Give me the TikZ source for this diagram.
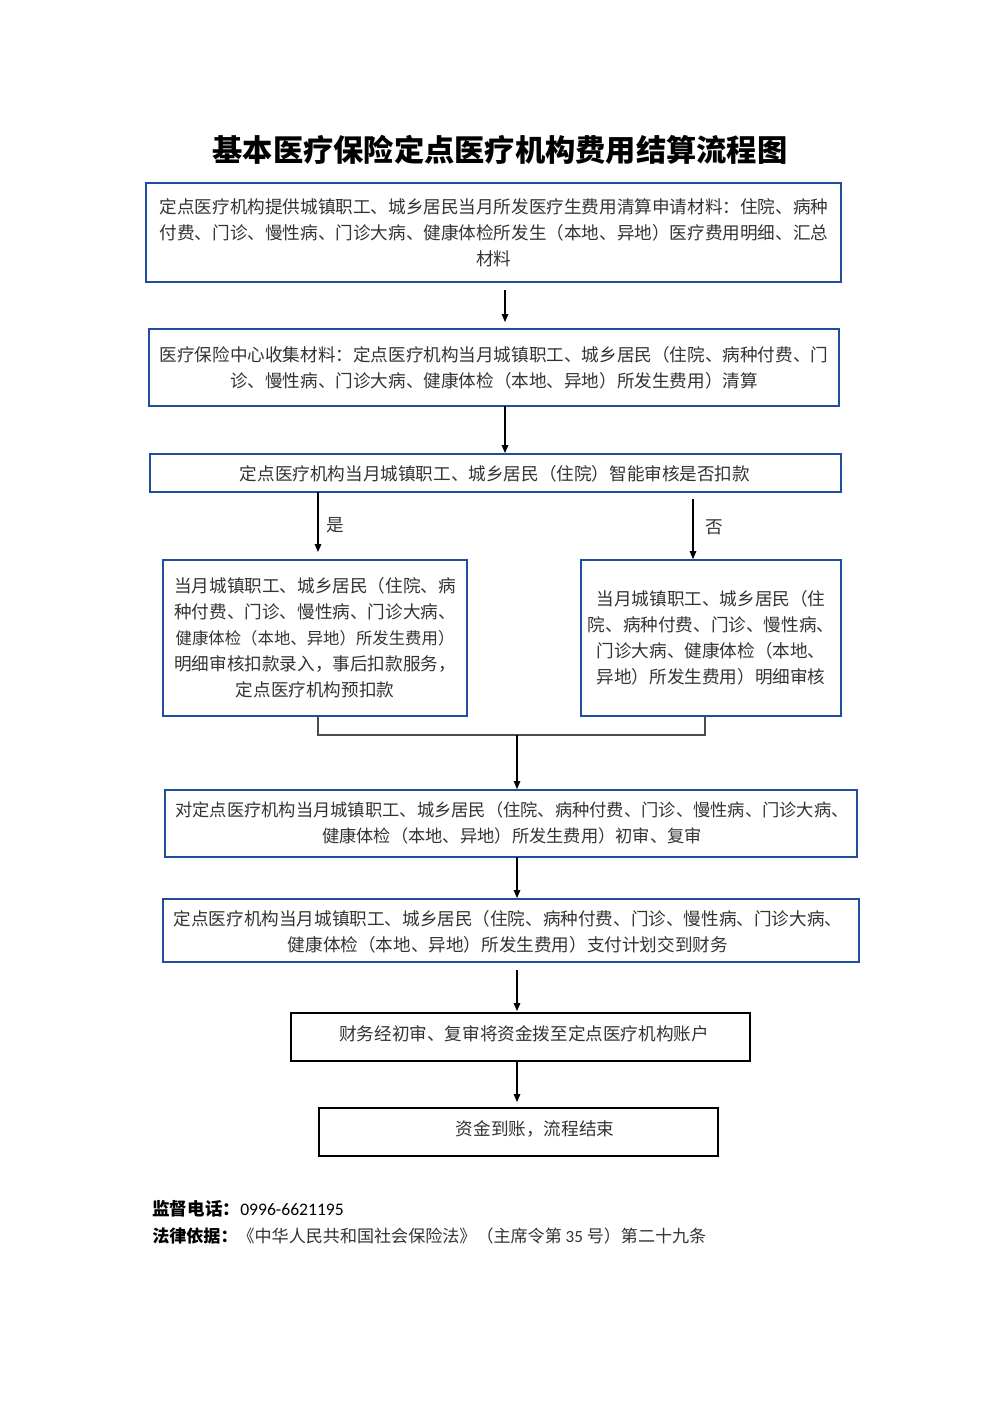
\documentclass[tikz,border=0pt]{standalone}
\usepackage{fontspec}
\setmainfont{Noto Sans CJK SC}
\newfontfamily\numfont{Carlito}
\usetikzlibrary{arrows.meta}
\definecolor{boxblue}{RGB}{32,78,158}
\tikzset{
  x=0.75pt, y=-0.75pt,
  bluebox/.style={draw=boxblue, line width=1.2pt},
  blackbox/.style={draw=black, line width=1pt},
  btxt/.style={align=center, font=\fontsize{13.2}{19.5}\selectfont, text=black!80, inner sep=0pt},
  stxt/.style={btxt, font=\fontsize{12.95}{19.5}\selectfont},
  arr/.style={draw=black, line width=0.8pt, -{Triangle[length=6pt,width=5pt]}},
  conn/.style={draw=black!70, line width=0.8pt},
}
\begin{document}
\begin{tikzpicture}
\useasboundingbox (0,0) rectangle (1000,1415);
% title
\node[font=\bfseries\fontsize{22.7}{26}\selectfont, inner sep=0pt] (title) at (500,150) {基本医疗保险定点医疗机构费用结算流程图};
% boxes
\draw[bluebox] (146,183) rectangle (841,282);
\node[btxt] (b1) at (494,233) {定点医疗机构提供城镇职工、城乡居民当月所发医疗生费用清算申请材料：住院、病种\\付费、门诊、慢性病、门诊大病、健康体检所发生（本地、异地）医疗费用明细、汇总\\材料};
\coordinate (b1s) at (505,290);
\coordinate (b2n) at (505,322);
\draw[bluebox] (149,329) rectangle (839,406);
\node[btxt] (b2) at (494,368) {医疗保险中心收集材料：定点医疗机构当月城镇职工、城乡居民（住院、病种付费、门\\诊、慢性病、门诊大病、健康体检（本地、异地）所发生费用）清算};
\coordinate (b2s) at (505,406);
\coordinate (b3n) at (505,453);
\draw[bluebox] (150,454) rectangle (841,492);
\node[btxt] (b3) at (495,474) {定点医疗机构当月城镇职工、城乡居民（住院）智能审核是否扣款};
\coordinate (ys) at (318,492);
\coordinate (yn) at (318,552);
\coordinate (ns) at (693,499);
\coordinate (nn) at (693,559);
\draw[bluebox] (163,560) rectangle (467,716);
\node[btxt] (b4) at (315,638) {当月城镇职工、城乡居民（住院、病\\种付费、门诊、慢性病、门诊大病、\\{\fontsize{12.3}{19.5}\selectfont 健康体检（本地、异地）所发生费用）}\\明细审核扣款录入，事后扣款服务，\\定点医疗机构预扣款};
\draw[bluebox] (581,560) rectangle (841,716);
\node[btxt] (b5) at (711,638) {当月城镇职工、城乡居民（住\\院、病种付费、门诊、慢性病、\\门诊大病、健康体检（本地、\\异地）所发生费用）明细审核};
\coordinate (b4s) at (318,716);
\coordinate (b5s) at (705,716);
\coordinate (jl) at (318,735);
\coordinate (jr) at (705,735);
\coordinate (jm) at (517,735);
\coordinate (b6n) at (517,789);
\draw[bluebox] (165,790) rectangle (857,857);
\node[stxt] (b6) at (512,823) {对定点医疗机构当月城镇职工、城乡居民（住院、病种付费、门诊、慢性病、门诊大病、\\健康体检（本地、异地）所发生费用）初审、复审};
\coordinate (b6s) at (517,857);
\coordinate (b7n) at (517,898);
\draw[bluebox] (163,899) rectangle (859,962);
\node[btxt] (b7) at (508,932) {定点医疗机构当月城镇职工、城乡居民（住院、病种付费、门诊、慢性病、门诊大病、\\健康体检（本地、异地）所发生费用）支付计划交到财务};
\coordinate (b7s) at (517,970);
\coordinate (b8n) at (517,1011);
\draw[blackbox] (291,1013) rectangle (750,1061);
\node[btxt] (b8) at (524,1034) {财务经初审、复审将资金拨至定点医疗机构账户};
\coordinate (b8s) at (517,1061);
\coordinate (b9n) at (517,1102);
\draw[blackbox] (319,1108) rectangle (718,1156);
\node[btxt] (b9) at (535,1129) {资金到账，流程结束};
% connectors
\draw[arr] (b1s) -- (b2n);
\draw[arr] (b2s) -- (b3n);
\draw[arr] (ys) -- (yn) node[pos=0.55, right=6pt, btxt] (yl) {是};
\draw[arr] (ns) -- (nn) node[pos=0.47, right=9pt, btxt] (nl) {否};
\draw[conn] (b4s) -- (jl) -- (jr) -- (b5s);
\draw[arr] (jm) -- (b6n);
\draw[arr] (b6s) -- (b7n);
\draw[arr] (b7s) -- (b8n);
\draw[arr] (b8s) -- (b9n);
% footer
\node[anchor=west, inner sep=0pt, font=\fontsize{13.2}{16}\selectfont] (f1) at (152,1209) {\textbf{监督电话：}{\numfont 0996-6621195}};
\node[anchor=west, inner sep=0pt, font=\fontsize{12.8}{16}\selectfont] (f2) at (152,1236) {\textbf{法律依据：}\color{black!80}《中华人民共和国社会保险法》（主席令第 {\numfont 35} 号）第二十九条};
\end{tikzpicture}
\end{document}
